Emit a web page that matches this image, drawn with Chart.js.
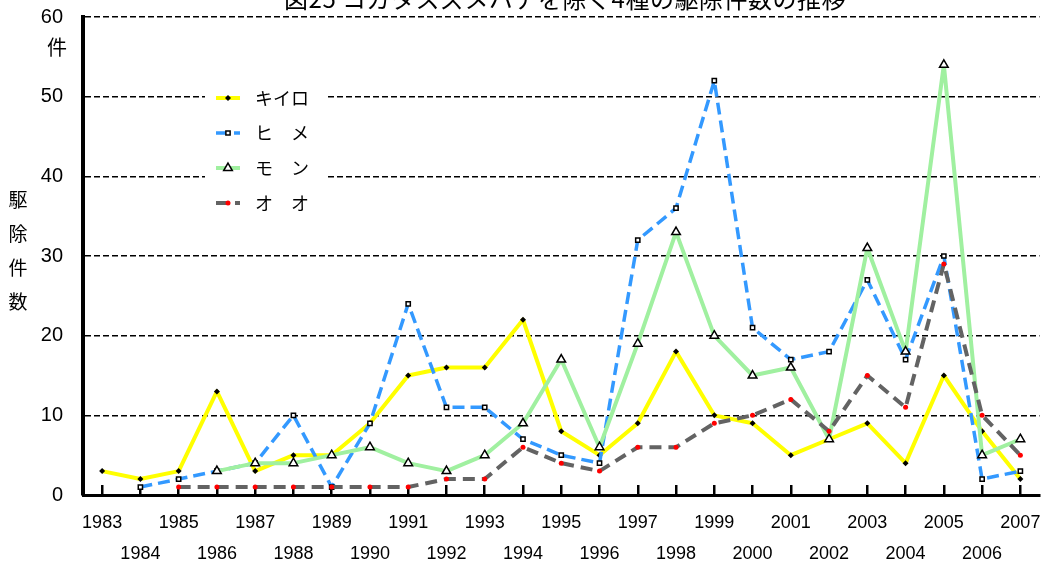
<!DOCTYPE html>
<html>
<head>
<meta charset="utf-8">
<script src="https://cdn.jsdelivr.net/npm/chart.js@4.4.1/dist/chart.umd.min.js"></script>
<style>
  html, body { margin: 0; padding: 0; background: #fff; }
  #chart { display: block; }
</style>
</head>
<body>
<canvas id="chart" width="1046" height="562"></canvas>
<script>
// Data
const years = [1983, 1984, 1985, 1986, 1987, 1988, 1989, 1990, 1991, 1992, 1993, 1994, 1995,
               1996, 1997, 1998, 1999, 2000, 2001, 2002, 2003, 2004, 2005, 2006, 2007];
const kiiro = [3, 2, 3, 13, 3, 5, 5, 9, 15, 16, 16, 22, 8, 5, 9, 18, 10, 9, 5, 7, 9, 4, 15, 8, 2];
const hime = [null, 1, 2, 3, 4, 10, 1, 9, 24, 11, 11, 7, 5, 4, 32, 36, 52, 21, 17, 18, 27, 17, 30, 2, 3];
const mon = [null, null, null, 3, 4, 4, 5, 6, 4, 3, 5, 9, 17, 6, 19, 33, 20, 15, 16, 7, 31, 18, 54, 5, 7];
const oo = [null, null, 1, 1, 1, 1, 1, 1, 1, 2, 2, 6, 4, 3, 6, 6, 9, 10, 12, 8, 15, 11, 29, 10, 5];
const yTicks = [0, 10, 20, 30, 40, 50, 60];

const seriesNames = ['キイロ', 'ヒ　メ', 'モ　ン', 'オ　オ'];
const titleText = '図25 コガタスズメバチを除く4種の駆除件数の推移';
const unitText = '件';
const yTitleChars = ['駆', '除', '件', '数'];

// odd years on the first row, even years on the second row
const xLabels = years.map((y, i) => i % 2 === 0 ? [String(y), ''] : ['', String(y)]);

const cjk = '"Noto Sans CJK JP", sans-serif';

// Title, axis captions and legend box
const extras = {
    id: 'extras',
    afterDraw(chart) {
        const ctx = chart.ctx;
        ctx.save();
        ctx.fillStyle = '#000';
        ctx.textAlign = 'center';
        ctx.textBaseline = 'alphabetic';
        ctx.font = '24px ' + cjk;
        ctx.letterSpacing = '0.5px';
        ctx.fillText(titleText, 565, 8);
        ctx.letterSpacing = '0px';

        ctx.textBaseline = 'middle';
        ctx.font = '20px ' + cjk;
        ctx.fillText(unitText, 57, 47);
        ctx.font = '19px ' + cjk;
        yTitleChars.forEach((c, i) => ctx.fillText(c, 18, 200 + i * 34));

        // legend
        ctx.fillStyle = '#fff';
        ctx.fillRect(205, 80, 123, 140);
        chart.data.datasets.forEach((ds, i) => {
            const y = 98 + i * 35;
            ctx.strokeStyle = ds.borderColor;
            ctx.lineWidth = ds.borderWidth;
            ctx.setLineDash(ds.borderDash || []);
            ctx.beginPath();
            ctx.moveTo(216, y);
            ctx.lineTo(240, y);
            ctx.stroke();
            ctx.setLineDash([]);
            ctx.fillStyle = ds.pointBackgroundColor;
            ctx.strokeStyle = ds.pointBorderColor;
            ctx.lineWidth = ds.pointBorderWidth;
            Chart.helpers.drawPoint(ctx, {
                pointStyle: ds.pointStyle,
                radius: ds.pointRadius,
                borderWidth: ds.pointBorderWidth,
                rotation: 0
            }, 228, y);
            ctx.fillStyle = '#000';
            ctx.textAlign = 'left';
            ctx.font = '18px ' + cjk;
            ctx.fillText(ds.label, 255, y);
        });
        ctx.restore();
    }
};

Chart.defaults.font.family = '"Liberation Sans", Arial, sans-serif';
Chart.defaults.color = '#000';

new Chart(document.getElementById('chart'), {
    type: 'line',
    data: {
        labels: xLabels,
        datasets: [
            {
                label: seriesNames[0],
                data: kiiro,
                borderColor: '#ffff00',
                borderWidth: 4,
                pointStyle: 'rectRot',
                pointRadius: 3,
                pointBackgroundColor: '#000',
                pointBorderColor: '#000',
                pointBorderWidth: 0,
                order: 4
            },
            {
                label: seriesNames[1],
                data: hime,
                borderColor: '#3399ff',
                borderWidth: 3.5,
                borderDash: [12, 6],
                pointStyle: 'rect',
                pointRadius: 3,
                pointBackgroundColor: '#fff',
                pointBorderColor: '#000',
                pointBorderWidth: 1.5,
                order: 3
            },
            {
                label: seriesNames[2],
                data: mon,
                borderColor: '#a0f0a0',
                borderWidth: 4,
                pointStyle: 'triangle',
                pointRadius: 5,
                pointBackgroundColor: '#fff',
                pointBorderColor: '#000',
                pointBorderWidth: 1.5,
                order: 2
            },
            {
                label: seriesNames[3],
                data: oo,
                borderColor: '#636363',
                borderWidth: 4,
                borderDash: [12, 7],
                pointStyle: 'circle',
                pointRadius: 2.5,
                pointBackgroundColor: '#ff0000',
                pointBorderColor: '#ff0000',
                pointBorderWidth: 0,
                order: 1
            }
        ]
    },
    options: {
        responsive: false,
        animation: false,
        devicePixelRatio: 1,
        layout: { padding: { top: 17, right: 5, left: 0, bottom: 0 } },
        elements: { line: { tension: 0, borderJoinStyle: 'round' } },
        plugins: {
            legend: { display: false },
            tooltip: { enabled: false }
        },
        scales: {
            x: {
                type: 'category',
                offset: true,
                grid: {
                    display: true,
                    drawOnChartArea: false,
                    drawTicks: true,
                    tickLength: -10,
                    offset: false,
                    color: '#000',
                    lineWidth: 2.5
                },
                border: { display: true, color: '#000', width: 3 },
                ticks: {
                    autoSkip: false,
                    maxRotation: 0,
                    minRotation: 0,
                    padding: 23,
                    font: { size: 18, lineHeight: 1.72 }
                },
                afterFit: s => {
                    s.height = 67;
                    s.paddingLeft = 0;
                    s.paddingRight = 0;
                }
            },
            y: {
                min: 0,
                max: 60,
                afterBuildTicks: s => { s.ticks = yTicks.map(v => ({ value: v })); },
                grid: { color: '#000', lineWidth: 1.5, drawTicks: false },
                border: { display: true, color: '#000', width: 4, dash: [6, 3] },
                ticks: { padding: 20, font: { size: 20 } },
                afterFit: s => {
                    s.width = 83;
                    s.paddingTop = 0;
                    s.paddingBottom = 0;
                }
            }
        }
    },
    plugins: [extras]
});
</script>
</body>
</html>
